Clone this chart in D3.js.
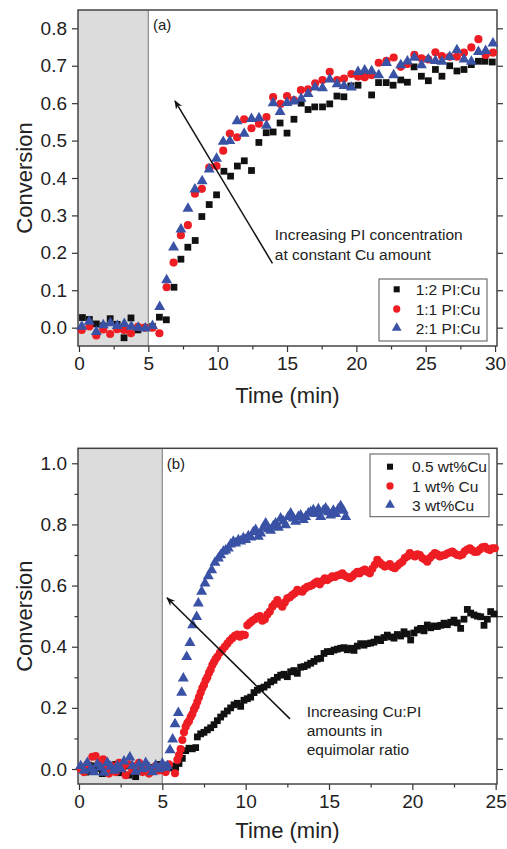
<!DOCTYPE html>
<html><head><meta charset="utf-8">
<script src="https://cdn.jsdelivr.net/npm/d3@7"></script>
<style>body{margin:0;background:#fff} text{font-family:"Liberation Sans",Arial,Helvetica,sans-serif;fill:#222}</style>
</head><body><svg id="c" width="507" height="849"></svg>
<script>
// ---------- Panel (a) data ----------
const aSeriesNames = ["1:2 PI:Cu", "1:1 PI:Cu", "2:1 PI:Cu"];
const aBlack = [[0.25,0.027],[0.75,0.022],[1.25,0.01],[1.75,0.005],[2.25,0.024],[2.75,0.009],[3.25,-0.027],[3.75,0.026],[4.25,-0.006],[4.75,0.0],[5.3,0.003],[5.8,0.028],[6.3,0.021],[6.85,0.108],[7.35,0.183],[7.85,0.215],[8.38,0.233],[8.86,0.297],[9.39,0.329],[9.92,0.355],[10.45,0.418],[10.93,0.405],[11.42,0.432],[11.92,0.446],[12.44,0.42],[12.97,0.495],[13.5,0.521],[14.0,0.523],[14.5,0.547],[15.0,0.52],[15.5,0.557],[16.02,0.6],[16.52,0.583],[17.0,0.59],[17.56,0.59],[18.08,0.598],[18.6,0.619],[19.1,0.617],[19.6,0.646],[20.12,0.648],[20.6,0.671],[21.1,0.622],[21.6,0.655],[22.15,0.655],[22.65,0.648],[23.2,0.662],[23.68,0.656],[24.16,0.697],[24.69,0.672],[25.19,0.66],[25.7,0.69],[26.17,0.672],[26.73,0.7],[27.25,0.686],[27.76,0.69],[28.29,0.703],[28.8,0.712],[29.27,0.712],[29.8,0.71]];
const aRed = [[0.2,-0.006],[0.75,0.003],[1.25,-0.021],[1.75,-0.005],[2.25,-0.017],[2.75,-0.004],[3.25,-0.006],[3.75,-0.015],[4.25,0.002],[4.75,0.0],[5.3,0.0],[5.8,-0.015],[6.32,0.108],[6.82,0.174],[7.35,0.247],[7.85,0.274],[8.36,0.358],[8.86,0.371],[9.39,0.428],[9.92,0.432],[10.4,0.473],[10.88,0.519],[11.4,0.509],[11.91,0.557],[12.44,0.533],[12.97,0.545],[13.52,0.563],[14.0,0.616],[14.53,0.598],[15.0,0.619],[15.49,0.608],[16.0,0.635],[16.52,0.637],[17.03,0.653],[17.56,0.662],[18.08,0.684],[18.61,0.662],[19.11,0.666],[19.64,0.678],[20.12,0.671],[20.6,0.669],[21.1,0.675],[21.61,0.708],[22.17,0.713],[22.69,0.722],[23.2,0.697],[23.68,0.705],[24.18,0.729],[24.69,0.72],[25.19,0.717],[25.7,0.736],[26.17,0.726],[26.73,0.724],[27.25,0.724],[27.76,0.735],[28.29,0.749],[28.8,0.771],[29.32,0.729],[29.85,0.735]];
const aBlue = [[0.2,0.003],[0.74,0.016],[1.25,-0.011],[1.75,0.007],[2.26,0.012],[2.76,0.005],[3.27,0.01],[3.77,0.003],[4.27,0.0],[4.78,-0.002],[5.3,0.005],[5.82,0.056],[6.32,0.127],[6.82,0.215],[7.35,0.263],[7.86,0.318],[8.36,0.37],[8.88,0.392],[9.39,0.423],[9.92,0.452],[10.4,0.497],[10.88,0.499],[11.4,0.552],[11.91,0.519],[12.44,0.558],[12.98,0.56],[13.52,0.54],[14.0,0.6],[14.5,0.577],[15.0,0.601],[15.5,0.605],[16.02,0.612],[16.52,0.625],[17.02,0.642],[17.56,0.64],[18.08,0.664],[18.61,0.651],[19.11,0.646],[19.64,0.642],[20.12,0.684],[20.6,0.688],[21.1,0.686],[21.61,0.675],[22.17,0.708],[22.69,0.675],[23.2,0.702],[23.68,0.712],[24.18,0.722],[24.69,0.702],[25.19,0.717],[25.7,0.713],[26.17,0.711],[26.73,0.724],[27.25,0.742],[27.76,0.717],[28.29,0.711],[28.8,0.737],[29.32,0.74],[29.85,0.76]];
const aXTicks = [0,5,10,15,20,25,30];
const aYTicks = [0.0,0.1,0.2,0.3,0.4,0.5,0.6,0.7,0.8];
const aNote = ["Increasing PI concentration", "at constant Cu amount"];

// ---------- Panel (b) data ----------
const bSeriesNames = ["0.5 wt%Cu", "1 wt% Cu", "3 wt%Cu"];
const bBlack = [[0.2,0.005],[0.4,-0.01],[0.6,0.012],[0.8,-0.005],[1.0,0.01],[1.2,0.002],[1.4,-0.015],[1.6,0.008],[1.8,0.0],[2.0,-0.008],[2.2,0.015],[2.4,-0.012],[2.6,0.005],[2.8,0.01],[3.0,-0.02],[3.2,0.0],[3.4,-0.025],[3.6,0.008],[3.8,-0.005],[4.0,0.012],[4.2,-0.01],[4.4,0.005],[4.6,0.0],[4.8,0.015],[5.0,-0.005],[5.2,0.01],[5.4,0.003],[5.6,0.01],
[5.8,0.005],[6.0,0.018],[6.2,0.035],[6.4,0.06],[6.6,0.068],[6.8,0.066],[7.0,0.07],[7.1,0.105],[7.3,0.115],[7.5,0.12],[7.7,0.128],[7.9,0.135],[8.1,0.145],[8.3,0.158],[8.5,0.17],[8.7,0.18],[8.9,0.19],[9.1,0.2],[9.3,0.21],[9.5,0.215],[9.7,0.205],[9.9,0.225],[10.1,0.23],[10.3,0.235],[10.5,0.25],[10.7,0.258],[10.9,0.264],[11.1,0.268],[11.3,0.275],[11.5,0.285],[11.7,0.29],[11.9,0.3],[12.1,0.307],[12.3,0.31],[12.5,0.302],[12.7,0.318],[12.9,0.322],[13.1,0.313],[13.3,0.333],[13.5,0.335],[13.7,0.34],[13.9,0.346],[14.1,0.352],[14.3,0.36],[14.5,0.362],[14.7,0.378],[14.9,0.384],[15.1,0.384],[15.3,0.389],[15.5,0.392],[15.7,0.395],[15.9,0.397],[16.1,0.39],[16.3,0.395],[16.5,0.388],[16.7,0.402],[16.9,0.41],[17.1,0.405],[17.3,0.41],[17.5,0.412],[17.7,0.415],[17.9,0.425],[18.1,0.42],[18.3,0.43],[18.5,0.438],[18.7,0.432],[18.9,0.428],[19.1,0.44],[19.3,0.435],[19.5,0.449],[19.7,0.442],[19.9,0.422],[20.1,0.445],[20.3,0.455],[20.5,0.46],[20.7,0.452],[20.9,0.471],[21.1,0.462],[21.3,0.468],[21.5,0.466],[21.7,0.47],[21.9,0.477],[22.1,0.472],[22.3,0.48],[22.5,0.487],[22.7,0.478],[22.9,0.46],[23.1,0.49],[23.3,0.522],[23.5,0.51],[23.7,0.504],[23.9,0.5],[24.1,0.498],[24.3,0.47],[24.5,0.49],[24.7,0.515],[24.9,0.507]];
const bRed = [[0.1,0.0],[0.3,-0.01],[0.5,0.015],[0.8,0.04],[1.0,0.042],[1.2,0.02],[1.45,0.032],[1.6,0.0],[1.8,-0.015],[2.0,0.01],[2.2,-0.01],[2.4,0.02],[2.6,0.005],[2.8,-0.02],[3.0,0.015],[3.2,-0.005],[3.4,0.01],[3.6,0.02],[3.8,-0.01],[4.0,0.005],[4.2,-0.015],[4.4,0.0],[4.6,0.01],[4.8,-0.005],[5.0,0.002],[5.2,-0.01],[5.4,0.015],[5.76,-0.014],
[5.9,0.03],[6.0,0.046],[6.1,0.065],[6.2,0.095],[6.3,0.12],[6.4,0.138],[6.5,0.15],[6.6,0.157],[6.7,0.17],[6.8,0.18],[6.9,0.195],[7.0,0.205],[7.1,0.22],[7.2,0.235],[7.3,0.25],[7.4,0.265],[7.5,0.275],[7.6,0.29],[7.7,0.3],[7.8,0.315],[7.9,0.325],[8.0,0.34],[8.1,0.35],[8.2,0.36],[8.3,0.367],[8.45,0.38],[8.6,0.39],[8.75,0.4],[8.9,0.41],[9.05,0.42],[9.2,0.428],[9.35,0.436],[9.5,0.44],[9.65,0.433],[9.8,0.44],[9.95,0.438],[10.1,0.47],[10.25,0.478],[10.4,0.485],[10.55,0.49],[10.7,0.497],[10.85,0.5],[11.0,0.485],[11.15,0.49],[11.3,0.505],[11.45,0.515],[11.6,0.531],[11.75,0.54],[11.9,0.553],[12.05,0.54],[12.2,0.531],[12.35,0.545],[12.5,0.558],[12.65,0.562],[12.8,0.569],[12.95,0.575],[13.1,0.586],[13.25,0.582],[13.4,0.58],[13.55,0.59],[13.7,0.596],[13.85,0.598],[14.0,0.602],[14.15,0.608],[14.3,0.613],[14.45,0.604],[14.6,0.615],[14.75,0.624],[14.9,0.618],[15.05,0.624],[15.2,0.63],[15.35,0.628],[15.5,0.633],[15.65,0.635],[15.8,0.64],[15.95,0.632],[16.1,0.628],[16.25,0.624],[16.4,0.63],[16.55,0.638],[16.7,0.645],[16.85,0.64],[17.0,0.648],[17.15,0.652],[17.3,0.645],[17.45,0.64],[17.6,0.655],[17.75,0.668],[17.9,0.684],[18.05,0.675],[18.2,0.668],[18.35,0.662],[18.5,0.665],[18.65,0.67],[18.8,0.66],[18.95,0.657],[19.1,0.665],[19.25,0.672],[19.4,0.678],[19.55,0.69],[19.7,0.695],[19.85,0.706],[20.0,0.7],[20.15,0.695],[20.3,0.702],[20.45,0.7],[20.6,0.69],[20.75,0.685],[20.9,0.678],[21.05,0.69],[21.2,0.698],[21.35,0.706],[21.5,0.702],[21.65,0.695],[21.8,0.698],[21.95,0.7],[22.1,0.705],[22.25,0.708],[22.4,0.711],[22.55,0.705],[22.7,0.7],[22.85,0.698],[23.0,0.702],[23.15,0.712],[23.3,0.718],[23.45,0.722],[23.6,0.715],[23.75,0.71],[23.9,0.711],[24.05,0.718],[24.2,0.725],[24.35,0.727],[24.5,0.72],[24.65,0.716],[24.8,0.722],[24.95,0.722]];
const bBlue = [[0.1,0.01],[0.3,-0.005],[0.5,0.02],[0.7,0.0],[0.9,-0.01],[1.1,0.015],[1.3,0.005],[1.5,-0.012],[1.7,0.02],[1.9,0.008],[2.1,-0.005],[2.3,0.01],[2.5,0.0],[2.7,0.025],[3.05,0.038],[3.2,0.01],[3.4,-0.008],[3.6,0.015],[3.8,0.0],[4.0,0.02],[4.2,0.005],[4.4,-0.01],[4.6,0.012],[4.8,0.0],[5.0,0.018],[5.2,0.005],[5.3,0.01],
[5.46,0.062],[5.62,0.097],[5.76,0.147],[5.96,0.184],[6.16,0.25],[6.26,0.297],[6.46,0.367],[6.66,0.413],[6.82,0.471],[7.06,0.498],[7.16,0.542],[7.36,0.58],[7.56,0.607],[7.76,0.631],[7.96,0.651],[8.16,0.675],[8.36,0.689],[8.5,0.7],[8.66,0.711],[8.8,0.715],[8.96,0.722],[9.1,0.735],[9.26,0.744],[9.4,0.738],[9.56,0.749],[9.7,0.745],[9.86,0.755],[10.0,0.75],[10.16,0.762],[10.3,0.758],[10.46,0.775],[10.6,0.782],[10.76,0.76],[10.9,0.771],[11.06,0.79],[11.2,0.804],[11.36,0.785],[11.5,0.78],[11.66,0.795],[11.8,0.804],[11.96,0.79],[12.1,0.82],[12.26,0.81],[12.4,0.798],[12.56,0.825],[12.7,0.836],[12.86,0.82],[13.0,0.809],[13.16,0.825],[13.3,0.83],[13.46,0.815],[13.6,0.825],[13.76,0.836],[13.9,0.84],[14.06,0.847],[14.2,0.835],[14.36,0.85],[14.5,0.825],[14.66,0.845],[14.8,0.853],[14.96,0.84],[15.1,0.83],[15.26,0.845],[15.4,0.835],[15.56,0.85],[15.7,0.86],[15.86,0.845],[16.0,0.825]];
const bXTicks = [0,5,10,15,20,25];
const bYTicks = [0.0,0.2,0.4,0.6,0.8,1.0];
const bNote = ["Increasing Cu:PI", "amounts in", "equimolar ratio"];

const colors = ["#111111", "#ee1d24", "#3a52a5"];
const symbols = [d3.symbolSquare, d3.symbolCircle, d3.symbolTriangle];
const symSizes = [46, 52, 52];

const svg = d3.select("#c");
svg.append("defs").append("marker").attr("id","ah").attr("viewBox","0 0 10 10")
  .attr("refX",9).attr("refY",5).attr("markerWidth",9).attr("markerHeight",9)
  .attr("markerUnits","userSpaceOnUse").attr("orient","auto")
  .append("path").attr("d","M0,1 L10,5 L0,9 L3,5 Z").attr("fill","#111");

function panel(cfg) {
  const g = svg.append("g");
  const x = d3.scaleLinear().domain(cfg.xDom).range([cfg.L, cfg.R]);
  const y = d3.scaleLinear().domain(cfg.yDom).range([cfg.B, cfg.T]);
  // gray induction region
  g.append("rect").attr("x", cfg.L).attr("y", cfg.T)
    .attr("width", x(cfg.grayEnd) - cfg.L).attr("height", cfg.B - cfg.T)
    .attr("fill", "#dcdcdc");
  g.append("line").attr("x1", x(cfg.grayEnd)).attr("x2", x(cfg.grayEnd))
    .attr("y1", cfg.T).attr("y2", cfg.B).attr("stroke", "#8a8a8a").attr("stroke-width", 1.2);

  const styleAxis = a => { a.select(".domain").remove(); a.selectAll("line").attr("stroke","#333").attr("stroke-width",1.2);
    a.selectAll("text").style("font-size","19px").attr("fill","#222"); };
  // bottom axis
  g.append("g").attr("transform",`translate(0,${cfg.B})`)
    .call(d3.axisBottom(x).tickValues(cfg.xTicks).tickSize(6).tickPadding(5).tickFormat(d3.format("d"))).call(styleAxis);
  g.append("g").attr("transform",`translate(0,${cfg.B})`)
    .call(d3.axisBottom(x).tickValues(cfg.xMinor).tickSize(3.5).tickFormat("")).call(styleAxis);
  // left axis
  g.append("g").attr("transform",`translate(${cfg.L},0)`)
    .call(d3.axisLeft(y).tickValues(cfg.yTicks).tickSize(6).tickPadding(5).tickFormat(d3.format(".1f"))).call(styleAxis);
  if (cfg.yMinor.length) g.append("g").attr("transform",`translate(${cfg.L},0)`)
    .call(d3.axisLeft(y).tickValues(cfg.yMinor).tickSize(3.5).tickFormat("")).call(styleAxis);
  // right axis
  g.append("g").attr("transform",`translate(${cfg.R},0)`)
    .call(d3.axisRight(y).tickValues(cfg.yRight).tickSize(6).tickFormat("")).call(styleAxis);

  // frame
  g.append("rect").attr("x",cfg.L).attr("y",cfg.T).attr("width",cfg.R-cfg.L).attr("height",cfg.B-cfg.T)
    .attr("fill","none").attr("stroke","#444").attr("stroke-width",1.5);

  // series
  cfg.series.forEach((s, i) => {
    g.append("g").selectAll("path").data(s).join("path")
      .attr("transform", d => `translate(${x(d[0])},${y(d[1])})`)
      .attr("d", d3.symbol().type(symbols[i]).size(symSizes[i])())
      .attr("fill", colors[i]);
  });

  // arrow
  g.append("line").attr("x1", x(cfg.arrow[0][0])).attr("y1", y(cfg.arrow[0][1]))
    .attr("x2", x(cfg.arrow[1][0])).attr("y2", y(cfg.arrow[1][1]))
    .attr("stroke","#111").attr("stroke-width",1.5).attr("marker-end","url(#ah)");
  // note text
  const nt = g.append("text").attr("x", x(cfg.noteX)).attr("y", y(cfg.noteY)).style("font-size","15.5px").attr("fill","#222");
  cfg.note.forEach((t, i) => nt.append("tspan").attr("x", x(cfg.noteX)).attr("dy", i ? cfg.noteDy : 0).text(t));

  // panel tag
  g.append("text").attr("x", cfg.tag[0]).attr("y", cfg.tag[1]).style("font-size","15px").text(cfg.tagText);

  // legend
  const lg = cfg.legend;
  g.append("rect").attr("x",lg.x0).attr("y",lg.y0).attr("width",lg.x1-lg.x0).attr("height",lg.y1-lg.y0)
    .attr("fill","#fff").attr("stroke","#555").attr("stroke-width",1);
  cfg.names.forEach((n, i) => {
    const yy = lg.rows[i];
    g.append("path").attr("transform",`translate(${lg.mx},${yy})`)
      .attr("d", d3.symbol().type(symbols[i]).size(symSizes[i]*0.8)()).attr("fill", colors[i]);
    g.append("text").attr("x", lg.tx).attr("y", yy).attr("dy","0.36em").style("font-size","15.5px").text(n);
  });

  // axis titles
  g.append("text").attr("transform",`translate(${cfg.ylabX},${(cfg.T+cfg.B)/2}) rotate(-90)`)
    .attr("text-anchor","middle").style("font-size","22px").text("Conversion");
  g.append("text").attr("x",(cfg.L+cfg.R)/2).attr("y",cfg.xlabY)
    .attr("text-anchor","middle").style("font-size","22px").text("Time (min)");
}

panel({
  L:78, R:497, T:10, B:346, xDom:[-0.07,30.14], yDom:[-0.049,0.849], grayEnd:5,
  xTicks:aXTicks, xMinor:[2.5,7.5,12.5,17.5,22.5,27.5], yTicks:aYTicks, yMinor:[], yRight:aYTicks,
  series:[aBlack,aRed,aBlue], names:aSeriesNames,
  arrow:[[13.95,0.172],[6.92,0.606]], note:aNote, noteX:14.12, noteY:0.233, noteDy:20,
  tag:[153,30], tagText:"(a)",
  legend:{x0:379,x1:487,y0:279,y1:341,mx:396.7,tx:415.7,rows:[289.3,309,328]},
  ylabX:32, xlabY:403
});
panel({
  L:78, R:497, T:448.3, B:784, xDom:[-0.06,25.08], yDom:[-0.049,1.049], grayEnd:5,
  xTicks:bXTicks, xMinor:[2.5,7.5,12.5,17.5,22.5], yTicks:bYTicks, yMinor:[0.1,0.3,0.5,0.7,0.9], yRight:[0,0.1,0.2,0.3,0.4,0.5,0.6,0.7,0.8,0.9,1.0],
  series:[bBlack,bRed,bBlue], names:bSeriesNames,
  arrow:[[12.66,0.164],[5.28,0.56]], note:bNote, noteX:13.66, noteY:0.17, noteDy:19,
  tag:[166.7,469],  tagText:"(b)",
  legend:{x0:370,x1:489,y0:454,y1:516.7,mx:390,tx:412,rows:[466.7,486,505]},
  ylabX:32, xlabY:838
});
</script></body></html>
